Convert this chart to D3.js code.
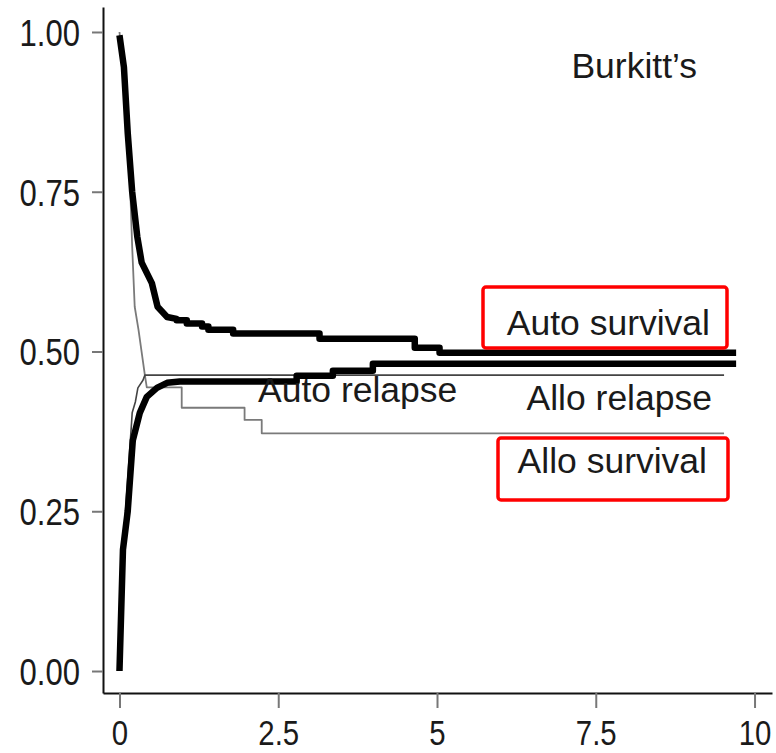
<!DOCTYPE html>
<html>
<head>
<meta charset="utf-8">
<script src="https://cdn.jsdelivr.net/npm/d3@7"></script>
<style>
  html, body { margin: 0; padding: 0; background: #fff; }
  svg { display: block; }
</style>
</head>
<body>
<svg id="chart" width="776" height="753"></svg>
<script>
// ---- data (time in years, probability) ----
const xTicks = [0, 2.5, 5, 7.5, 10];
const xTickLabels = ["0", "2.5", "5", "7.5", "10"];
const yTicks = [0, 0.25, 0.5, 0.75, 1];
const yTickLabels = ["0.00", "0.25", "0.50", "0.75", "1.00"];

const autoSurvival = [
  [0, 0.995], [0.07, 0.945], [0.13, 0.842], [0.2, 0.75], [0.28, 0.68], [0.35, 0.639],
  [0.51, 0.607], [0.6, 0.57], [0.75, 0.554], [0.9, 0.551], [0.9, 0.549],
  [1.06, 0.549], [1.06, 0.544], [1.3, 0.544], [1.3, 0.539], [1.4, 0.539],
  [1.4, 0.534], [1.79, 0.534], [1.79, 0.528], [3.15, 0.528], [3.15, 0.52],
  [4.65, 0.52], [4.65, 0.506], [5.04, 0.506], [5.04, 0.498], [9.71, 0.498]
];
const autoRelapse = [
  [0, 0.0], [0.055, 0.19], [0.13, 0.25], [0.21, 0.361], [0.32, 0.404],
  [0.43, 0.429], [0.59, 0.443], [0.75, 0.451], [0.95, 0.453], [2.79, 0.453],
  [2.79, 0.462], [3.36, 0.462], [3.36, 0.47], [3.99, 0.47], [3.99, 0.481],
  [9.71, 0.481]
];
const alloSurvival = [
  [0, 1.0], [0.07, 0.93], [0.13, 0.84], [0.165, 0.768], [0.2, 0.664],
  [0.24, 0.57], [0.3, 0.534], [0.4, 0.463], [0.43, 0.444], [0.98, 0.444],
  [0.98, 0.412], [1.97, 0.412], [1.97, 0.393], [2.24, 0.393], [2.24, 0.372],
  [9.52, 0.372]
];
const alloRelapse = [
  [0, 0.0], [0.06, 0.2], [0.15, 0.33], [0.19, 0.388], [0.2, 0.404],
  [0.25, 0.421], [0.29, 0.443], [0.37, 0.455], [0.4, 0.463], [9.52, 0.463]
];

// ---- layout ----
const svg = d3.select("#chart");
const x = d3.scaleLinear().domain([-0.2594, 10.275]).range([103, 772]);
const y = d3.scaleLinear().domain([-0.0344, 1.0391]).range([693, 7]);

const tickFont = "'Liberation Sans', Arial, sans-serif";
const labelFont = "'Liberation Sans', Arial, sans-serif";
const condense = 0.84;

// axes
const yAxis = d3.axisLeft(y).tickValues(yTicks)
  .tickFormat((d, i) => yTickLabels[i]).tickSize(11).tickPadding(12).tickSizeOuter(0);
const xAxis = d3.axisBottom(x).tickValues(xTicks)
  .tickFormat((d, i) => xTickLabels[i]).tickSize(15).tickPadding(15).tickSizeOuter(0);

const gy = svg.append("g").attr("transform", "translate(103,0)").call(yAxis);
const gx = svg.append("g").attr("transform", "translate(0,693)").call(xAxis);
[gx, gy].forEach(g => {
  g.select(".domain").attr("stroke", "#111").attr("stroke-width", 2);
  g.selectAll(".tick line").attr("stroke", "#777").attr("stroke-width", 2);
  g.selectAll(".tick text").attr("fill", "#1a1a1a")
    .style("font-family", tickFont);
});
// condensed look of the tick labels
gy.selectAll(".tick text")
  .style("font-size", "37px")
  .attr("x", 0).attr("dy", "0.36em")
  .attr("transform", `translate(-23,0) scale(${condense},1)`);
gx.selectAll(".tick text")
  .style("font-size", "35px")
  .attr("y", 0).attr("dy", 0)
  .attr("transform", `translate(0,52) scale(${condense},1)`);

// curves
const line = d3.line().x(d => x(d[0])).y(d => y(d[1]));
const series = [
  { data: alloSurvival, color: "#7a7a7a", width: 1.8 },
  { data: alloRelapse, color: "#444", width: 1.6 },
  { data: autoSurvival, color: "#000", width: 6.5 },
  { data: autoRelapse, color: "#000", width: 6.5 }
];
svg.append("g").selectAll("path").data(series).join("path")
  .attr("d", d => line(d.data))
  .attr("fill", "none")
  .attr("stroke", d => d.color)
  .attr("stroke-width", d => d.width)
  .attr("stroke-linejoin", "round");

// labels
const labels = [
  { text: "Burkitt\u2019s", x: 697, y: 78, anchor: "end" },
  { text: "Auto survival", x: 710, y: 335, anchor: "end" },
  { text: "Auto relapse", x: 258, y: 402, anchor: "start" },
  { text: "Allo relapse", x: 712, y: 410, anchor: "end" },
  { text: "Allo survival", x: 707, y: 473, anchor: "end" }
];
svg.append("g").selectAll("text").data(labels).join("text")
  .attr("x", d => d.x).attr("y", d => d.y)
  .attr("text-anchor", d => d.anchor)
  .attr("fill", "#1a1a1a")
  .style("font-family", labelFont).style("font-size", "35.5px")
  .text(d => d.text);

// red highlight boxes
const boxes = [
  { x0: 483, y0: 287, x1: 727, y1: 348 },
  { x0: 498, y0: 438, x1: 728, y1: 500 }
];
svg.append("g").selectAll("rect").data(boxes).join("rect")
  .attr("x", d => d.x0).attr("y", d => d.y0)
  .attr("width", d => d.x1 - d.x0).attr("height", d => d.y1 - d.y0)
  .attr("rx", 3)
  .attr("fill", "none").attr("stroke", "#f00").attr("stroke-width", 3.5);
</script>
</body>
</html>
